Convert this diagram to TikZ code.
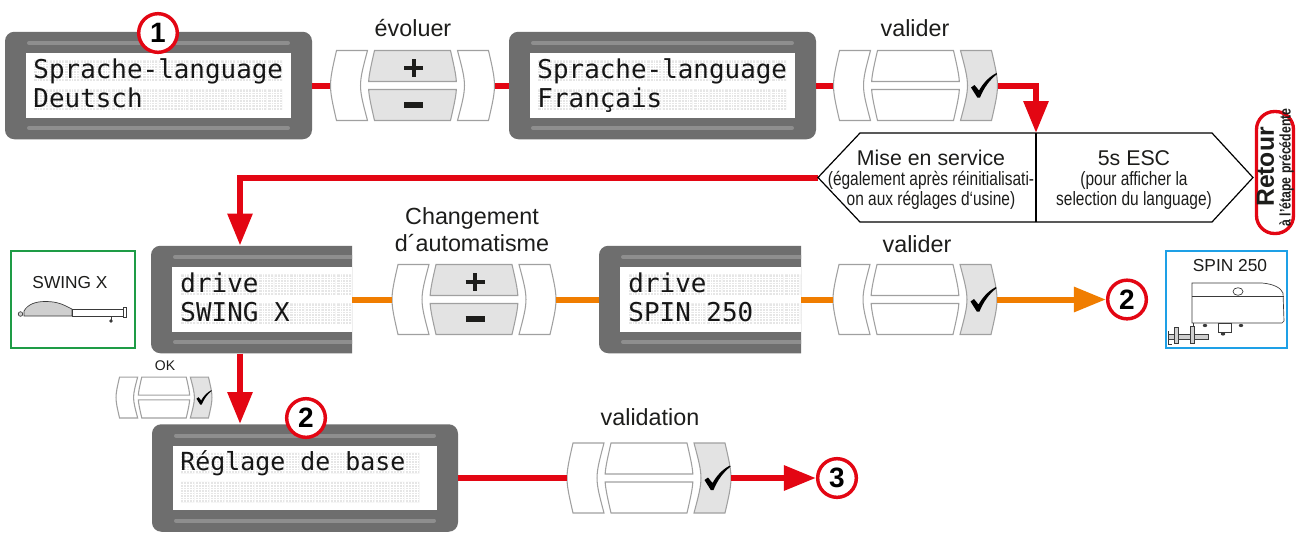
\documentclass[tikz,border=0pt]{standalone}
\usepackage{fontspec}
\setmainfont{Liberation Sans}
\newfontfamily\lcdfont{DejaVu Sans Mono}
\newfontfamily\narrowfont[FakeStretch=0.8]{Liberation Sans}
\usetikzlibrary{arrows.meta}

\definecolor{lcdbody}{HTML}{6E6E6E}
\definecolor{lcdstripe}{HTML}{8E8E8E}
\definecolor{lcdcell}{HTML}{E6E6E6}
\definecolor{lcdink}{HTML}{161616}
\definecolor{keyfill}{HTML}{E3E3E3}
\definecolor{keyline}{HTML}{A0A0A0}
\definecolor{keyink}{HTML}{1D1D1B}
\definecolor{inkgrey}{HTML}{1D1D1B}
\definecolor{flowred}{HTML}{E30613}
\definecolor{floworange}{HTML}{F07D00}
\definecolor{swinggreen}{HTML}{1E9C46}
\definecolor{spinblue}{HTML}{1EA0E6}
\definecolor{sketchline}{HTML}{3A3A3A}
\definecolor{sketchfill}{HTML}{CFCFCF}

\tikzset{
  labeltext/.style={font=\fontsize{17.5}{20.25}\selectfont, text=inkgrey, inner sep=0pt, align=center},
  bannertitle/.style={font=\fontsize{16}{18}\selectfont, text=inkgrey, inner sep=0pt},
  bannernote/.style={font=\narrowfont\fontsize{14.5}{15}\selectfont, text=inkgrey, inner sep=0pt, align=center},
  devicename/.style={font=\fontsize{13}{15}\selectfont, text=inkgrey, inner sep=0pt},
  stepnum/.style={circle, draw=flowred, line width=2.6pt, fill=white, minimum size=29pt, inner sep=0pt,
    font=\fontsize{21}{21}\selectfont\bfseries, text=black},
  redflow/.style={draw=flowred, line width=4.5pt},
  orangeflow/.style={draw=floworange, line width=4.5pt},
  bigtip/.style={-{Triangle[length=24pt,width=18pt]}},
  keyshape/.style={draw=keyline, line width=0.8pt},
  keyslot/.style={rectangle, inner sep=0pt, draw=none},
  lcdslot/.style={rectangle, inner sep=0pt, draw=none, minimum height=80.6pt},
  lcdtext/.style={inner sep=0pt, text=lcdink, anchor=base west},
  sketch/.style={draw=sketchline, line width=0.5pt},
}

% LCD panel: name, left, visible right, drawn right, centre y, first cell x, cell pitch, row 1, row 2
\newcommand\lcdpanel[9]{%
  \pgfmathsetmacro\lcdW{(#3-#2)*0.75}%
  \node[lcdslot, minimum width=\lcdW pt] (#1) at ({(#2+#3)/2},#5) {};
  \begin{scope}
    \clip (#2-2,#5-60) rectangle (#3,#5+60);
    \fill[lcdbody, rounded corners=7pt] (#2,#5-53.75) rectangle (#4,#5+53.75);
    \fill[white] (#2+21,#5-32.25) rectangle (#4-21,#5+32.25);
    \draw[lcdstripe, line width=3pt, line cap=round]
      (#2+24,#5-42.5) -- (#4-24,#5-42.5) (#2+24,#5+42.5) -- (#4-24,#5+42.5);
    \pgfmathsetmacro\lcdcellw{#7-1.6}%
    % character cells with their dot raster
    \foreach \k in {0,...,15}{
      \pgfmathsetmacro\lcdcx{#6+\k*#7}
      \fill[lcdcell] (\lcdcx,#5-25.25) rectangle ++(\lcdcellw,20.5)
                     (\lcdcx,#5+3.75) rectangle ++(\lcdcellw,20.5);
      \draw[white, line width=0.3pt]
        \foreach \gx in {1,...,4}{(\lcdcx+\gx*\lcdcellw/5,#5-25.25) -- ++(0,20.5)
                                 (\lcdcx+\gx*\lcdcellw/5,#5+3.75) -- ++(0,20.5)}
        \foreach \gy in {1,...,7}{(\lcdcx,#5-25.25+\gy*2.5625) -- ++(\lcdcellw,0)
                                 (\lcdcx,#5+3.75+\gy*2.5625) -- ++(\lcdcellw,0)};
    }
    \pgfmathsetmacro\lcdfs{#7*0.75/0.60205}%
    \node[lcdtext, font=\lcdfont\fontsize{\lcdfs}{\lcdfs}\selectfont] (#1-l1) at (#6-0.8,#5-7.25) {#8};
    \node[lcdtext, font=\lcdfont\fontsize{\lcdfs}{\lcdfs}\selectfont] (#1-l2) at (#6-0.8,#5+21.75) {#9};
  \end{scope}
}

% three-part key block: fill of middle keys, fill of right key
\newcommand\keyframe[2]{%
  \filldraw[keyshape, fill=white] (-76,-35) -- (-45,-35) .. controls (-54.3,0) .. (-45,35)
    -- (-76,35) .. controls (-84,0) .. (-76,-35) -- cycle;
  \filldraw[keyshape, fill=#2] (76,-35) -- (45,-35) .. controls (54.3,0) .. (45,35)
    -- (76,35) .. controls (84,0) .. (76,-35) -- cycle;
  \filldraw[keyshape, fill=#1] (-38,-35) -- (38,-35) .. controls (41.39,-20.17) and (43.34,-11.62) .. (43.86,-4)
    -- (-43.86,-4) .. controls (-43.34,-11.62) and (-41.39,-20.17) .. (-38,-35) -- cycle;
  \filldraw[keyshape, fill=#1] (-38,35) -- (38,35) .. controls (41.39,20.17) and (43.34,11.62) .. (43.86,4)
    -- (-43.86,4) .. controls (-43.34,11.62) and (-41.39,20.17) .. (-38,35) -- cycle;
}

% plus / minus keys
\newcommand\keypadpm[3]{%
  \node[keyslot, minimum width=123pt, minimum height=52.5pt] (#1) at (#2,#3) {};
  \begin{scope}[shift={(#2,#3)}]
    \keyframe{keyfill}{white}
    \draw[keyink, line width=3pt] (-8.5,-17.5) -- (10.5,-17.5) (1,-26.5) -- (1,-8.5);
    \draw[keyink, line width=3.8pt] (-8.5,19.5) -- (10.5,19.5);
  \end{scope}
}

% confirm keys with a tick on the right key: name, x, y, scale
\newcommand\keypadok[4]{%
  \pgfmathsetmacro\kpw{123*#4}\pgfmathsetmacro\kph{52.5*#4}%
  \node[keyslot, minimum width=\kpw pt, minimum height=\kph pt] (#1) at (#2,#3) {};
  \begin{scope}[shift={(#2,#3)}, scale=#4]
    \keyframe{white}{keyfill}
    \fill[black] (55.5,2) -- (59,-0.5) -- (63.5,5) .. controls (68,-3) and (74,-9) .. (81,-12.5)
      -- (81.5,-11.3) .. controls (74.5,-6) and (68.5,2) .. (64.5,12) -- (61.8,12) -- cycle;
  \end{scope}
}

\begin{document}
\begin{tikzpicture}[x=0.75pt, y=-0.75pt]
\useasboundingbox (0,0) rectangle (1300,558);
\fill[white] (0,0) rectangle (1300,558);

% displays
\lcdpanel{lcdA}{5}{312}{312}{85.5}{34}{15.6}{Sprache-language}{Deutsch}
\lcdpanel{lcdB}{509}{816}{816}{85.5}{538}{15.6}{Sprache-language}{Français}
\lcdpanel{lcdC}{151}{352}{458}{299.5}{181}{15.6}{drive}{SWING X}
\lcdpanel{lcdD}{599}{801}{906}{299.5}{629}{15.6}{drive}{SPIN 250}
\lcdpanel{lcdE}{152}{458}{458}{478}{181}{15.0}{Réglage de base}{}

% key blocks
\keypadpm{evo}{412.5}{85.5}
\keypadok{valA}{915.5}{85.5}{1}
\keypadpm{chg}{474}{299.5}
\keypadok{valB}{915}{299.5}{1}
\keypadok{okkey}{164}{397.5}{0.585}
\keypadok{valC}{649}{478}{1}

% key captions
\node[labeltext, anchor=base] (capevo) at (413,36) {évoluer};
\node[labeltext, anchor=base] (capvalA) at (915,36) {valider};
\node[labeltext] (capchg) at (472,229.5) {Changement\\d´automatisme};
\node[labeltext, anchor=base] (capvalB) at (917,252) {valider};
\node[labeltext, anchor=base] (capvalC) at (650,425) {validation};
\node[inner sep=0pt, text=inkgrey, font=\fontsize{10.5}{12}\selectfont, anchor=base] (capok) at (165,370) {OK};

% flow from the banner down to the drive display
\coordinate (drop) at (240,0);
\coordinate (bnW) at (818,177.5);
\coordinate (bnE) at (1253,177.5);
\coordinate (bnTop) at (1036,133);
\draw[redflow, bigtip] (bnW) -| (drop |- lcdC.north);

% commissioning banner
\filldraw[draw=black, line width=0.9pt, fill=white]
  (bnW) -- (860,133) -- (1212,133) -- (bnE) -- (1212,222) -- (860,222) -- cycle;
\draw[black, line width=0.9pt] (bnTop) -- (1036,222);
\node[bannertitle] (miseT) at (931,158) {Mise en service};
\node[bannernote] (miseN) at (931,190) {(également après réinitialisati-\\on aux réglages d‘usine)};
\node[bannertitle] (escT) at (1134,158) {5s ESC};
\node[bannernote] (escN) at (1134,190) {(pour afficher la\\selection du language)};

% back badge
\node[draw=flowred, line width=2.5pt, rounded corners=13.5pt, minimum width=27.75pt, minimum height=91.5pt,
      inner sep=0pt] (retour) at (1275,172.5) {};
\node[rotate=90, inner sep=0pt, text=inkgrey, font=\fontsize{18.5}{20}\selectfont\bfseries] (retourT) at (1265.5,167) {Retour};
\node[rotate=90, inner sep=0pt, text=inkgrey, font=\narrowfont\fontsize{11.5}{13}\selectfont\bfseries] (retourN) at (1286.5,167.5) {à l’étape précédente};

% red flow, first row
\draw[redflow] (lcdA.east) -- (evo.west);
\draw[redflow] (evo.east) -- (lcdB.west);
\draw[redflow] (lcdB.east) -- (valA.west);
\draw[redflow, bigtip] (valA.east) -| (bnTop);

% orange flow, second row
\draw[orangeflow] (lcdC.east) -- (chg.west);
\draw[orangeflow] (chg.east) -- (lcdD.west);
\draw[orangeflow] (lcdD.east) -- (valB.west);

% red flow, third row
\draw[redflow, bigtip] (drop |- lcdC.south) -- (drop |- lcdE.north);
\draw[redflow] (lcdE.east) -- (valC.west);

% step markers
\node[stepnum] (stepA) at (158,33) {1};
\node[stepnum] (stepB) at (306,418) {2};
\node[stepnum] (stepC) at (1127,299.5) {2};
\node[stepnum] (stepD) at (837,478) {3};
\draw[orangeflow, bigtip] (valB.east) -- (stepC.west);
\draw[redflow, bigtip] (valC.east) -- (stepD.west);

% SWING X operator card
\node[draw=swinggreen, line width=1.5pt, minimum width=93pt, minimum height=72.75pt, inner sep=0pt] (swingbox) at (73,299.5) {};
\node[devicename] (swingname) at (70,283) {SWING X};
\filldraw[sketch, fill=sketchfill] (24,316) -- (24,311) .. controls (28,304) and (36,301.5) .. (45,301.5)
  .. controls (54,301.5) and (60,303) .. (66,306) -- (72,309) -- (72,316) -- cycle;
\filldraw[sketch, fill=white] (72,309) rectangle (124,316);
\filldraw[sketch, fill=white] (123,307.5) rectangle (126.5,317);
\filldraw[sketch, fill=sketchfill] (20.5,314) circle (2.3);
\draw[sketch] (111,316) -- (111,320);
\fill[sketchline] (111,321) circle (1.8);

% SPIN 250 operator card
\node[draw=spinblue, line width=1.5pt, minimum width=90.75pt, minimum height=72.75pt, inner sep=0pt] (spinbox) at (1226.5,299.5) {};
\node[devicename] (spinname) at (1230,265.5) {SPIN 250};
\filldraw[sketch, fill=white] (1192,323) -- (1192,283) -- (1262,283) .. controls (1274,284) and (1281,288) .. (1283,293)
  -- (1284,321) -- (1282,323) -- cycle;
\draw[sketch] (1192,296) -- (1283.5,296);
\filldraw[sketch, fill=white] (1238,291.5) ellipse (5 and 3.8);
\filldraw[sketch, fill=white] (1218,323) rectangle (1231,332);
\fill[sketchline] (1205,325.5) ellipse (2.2 and 1.6);
\fill[sketchline] (1241,325.5) ellipse (2.2 and 1.6);
\fill[sketchline] (1223,334) ellipse (2.2 and 1.6);
\draw[sketch] (1193,323) -- (1193,334);
\filldraw[sketch, fill=sketchfill] (1168,334.5) rectangle (1208,339.5);
\draw[sketch] (1168,331) -- (1168,344) -- (1172,344);
\filldraw[sketch, fill=sketchfill] (1174,327) rectangle (1178,343);
\filldraw[sketch, fill=sketchfill] (1190,326) rectangle (1194,343);
\end{tikzpicture}
\end{document}
